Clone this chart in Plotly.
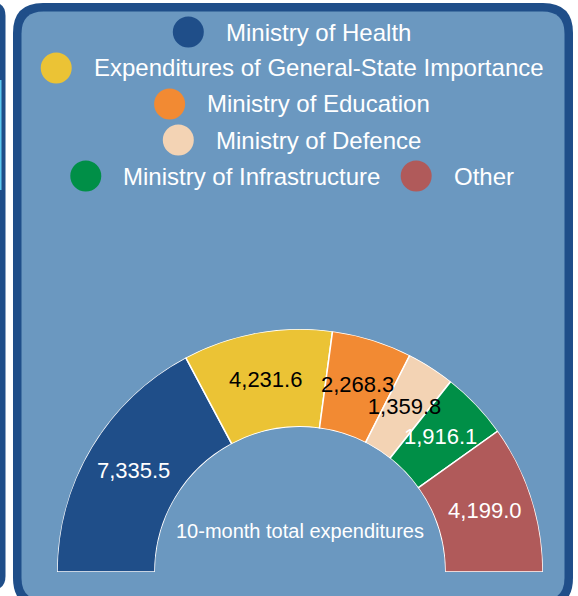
import plotly.graph_objects as go

# ---- data ----
categories = ["Ministry of Health", "Expenditures of General-State Importance",
              "Ministry of Education", "Ministry of Defence",
              "Ministry of Infrastructure", "Other"]
values = [7335.5, 4231.6, 2268.3, 1359.8, 1916.1, 4199.0]
colors = ["#1F4E89", "#EBC335", "#F28A33", "#F3D3B4", "#008F47", "#B05A5A"]
label_colors = ["white", "black", "black", "black", "white", "white"]
center_title = "10-month total expenditures"

W, H = 578, 596
FONT = "Liberation Sans, Arial, Helvetica, sans-serif"
DARK = "#1F4E89"
PANEL = "#6B98C0"


def X(px):
    return px / W


def Y(py):
    return 1 - py / H


def rrect(x0, y0, x1, y1, r):
    pts = [
        ("M", (x0 + r, y0)), ("L", (x1 - r, y0)), ("Q", (x1, y0), (x1, y0 + r)),
        ("L", (x1, y1 - r)), ("Q", (x1, y1), (x1 - r, y1)),
        ("L", (x0 + r, y1)), ("Q", (x0, y1), (x0, y1 - r)),
        ("L", (x0, y0 + r)), ("Q", (x0, y0), (x0 + r, y0)),
    ]
    s = ""
    for p in pts:
        cmd = p[0]
        coords = " ".join(f"{X(a):.5f},{Y(b):.5f}" for a, b in p[1:])
        s += f"{cmd} {coords} "
    return s + "Z"


# angles of the half donut
total = sum(values)
widths = [v / total * 180 for v in values]
mids = []
acc = 0
for w in widths:
    mids.append(acc + w / 2)
    acc += w

fig = go.Figure()
fig.add_trace(go.Barpolar(
    r=[1] * len(values), theta=mids, width=widths,
    marker=dict(color=colors, line=dict(color="white", width=1.5)),
    hoverinfo="skip", showlegend=False,
))
fig.add_trace(go.Scatterpolar(
    r=[0.5] * len(values), theta=mids, mode="text",
    text=[f"{v:,.1f}" for v in values],
    textfont=dict(size=22, color=label_colors, family=FONT),
    textposition="middle center", hoverinfo="skip", showlegend=False,
))

shapes = []
# left neighbouring panel sliver
shapes.append(dict(type="path", path=rrect(-40, 2, 5.5, 590, 14), xref="paper", yref="paper",
                   fillcolor=DARK, line=dict(width=0), layer="below"))
shapes.append(dict(type="rect", x0=X(0), x1=X(1.5), y0=Y(190), y1=Y(80), xref="paper", yref="paper",
                   fillcolor="#5BC8F0", line=dict(width=0), layer="below"))
# main panel
shapes.append(dict(type="path", path=rrect(13, 3, 573, 608, 30), xref="paper", yref="paper",
                   fillcolor=DARK, line=dict(width=0), layer="below"))
shapes.append(dict(type="path", path=rrect(21.5, 11.5, 564.5, 600, 22), xref="paper", yref="paper",
                   fillcolor=PANEL, line=dict(width=0), layer="below"))

# manual legend with large circular markers
aw = {' ': 278, '-': 333, ',': 278, '.': 278,
      'A': 667, 'B': 667, 'C': 722, 'D': 722, 'E': 667, 'F': 611, 'G': 778, 'H': 722, 'I': 278,
      'J': 500, 'K': 667, 'L': 556, 'M': 833, 'N': 722, 'O': 778, 'P': 667, 'Q': 778, 'R': 722,
      'S': 667, 'T': 611, 'U': 722, 'V': 667, 'W': 944, 'X': 667, 'Y': 667, 'Z': 611,
      'a': 556, 'b': 556, 'c': 500, 'd': 556, 'e': 556, 'f': 278, 'g': 556, 'h': 556, 'i': 222,
      'j': 222, 'k': 500, 'l': 222, 'm': 833, 'n': 556, 'o': 556, 'p': 556, 'q': 556, 'r': 333,
      's': 500, 't': 278, 'u': 556, 'v': 500, 'w': 722, 'x': 500, 'y': 500, 'z': 500}
LFS = 24
D = 31
G1 = 20
G2 = 22
CX = 291


def tw(s, fs):
    return sum(aw.get(c, 556) for c in s) / 1000 * fs


rows = [[0], [1], [2], [3], [4, 5]]
row_y = [32, 68, 104, 140, 176]
annotations = []
for row, yy in zip(rows, row_y):
    widths_items = [D + G1 + tw(categories[i], LFS) for i in row]
    total_w = sum(widths_items) + G2 * (len(row) - 1)
    x = CX - total_w / 2
    for i, wi in zip(row, widths_items):
        shapes.append(dict(type="circle", xref="paper", yref="paper",
                           x0=X(x), x1=X(x + D), y0=Y(yy + D / 2), y1=Y(yy - D / 2),
                           fillcolor=colors[i], line=dict(width=0)))
        annotations.append(dict(text=categories[i], x=X(x + D + G1), y=Y(yy), xref="paper", yref="paper",
                                xanchor="left", yanchor="middle", showarrow=False,
                                font=dict(size=LFS, color="white", family=FONT)))
        x += wi + G2

annotations.append(dict(text=center_title, x=X(300), y=Y(531), xref="paper", yref="paper",
                        xanchor="center", yanchor="middle", showarrow=False,
                        font=dict(size=20, color="white", family=FONT)))

fig.update_layout(
    width=W, height=H, margin=dict(l=0, r=0, t=0, b=0),
    paper_bgcolor="white", plot_bgcolor="white",
    shapes=shapes, annotations=annotations, showlegend=False,
    polar=dict(
        domain=dict(x=[X(57), X(543)], y=[Y(572), Y(329)]),
        sector=[0, 180], hole=0.597, bargap=0,
        bgcolor="rgba(0,0,0,0)",
        radialaxis=dict(range=[0, 1], visible=False),
        angularaxis=dict(rotation=180, direction="clockwise", visible=False, thetaunit="degrees"),
    ),
    font=dict(family=FONT),
)

fig.write_html("out.html", config={"displayModeBar": False},
               post_script="document.body.style.margin='0';document.body.style.overflow='hidden';")
